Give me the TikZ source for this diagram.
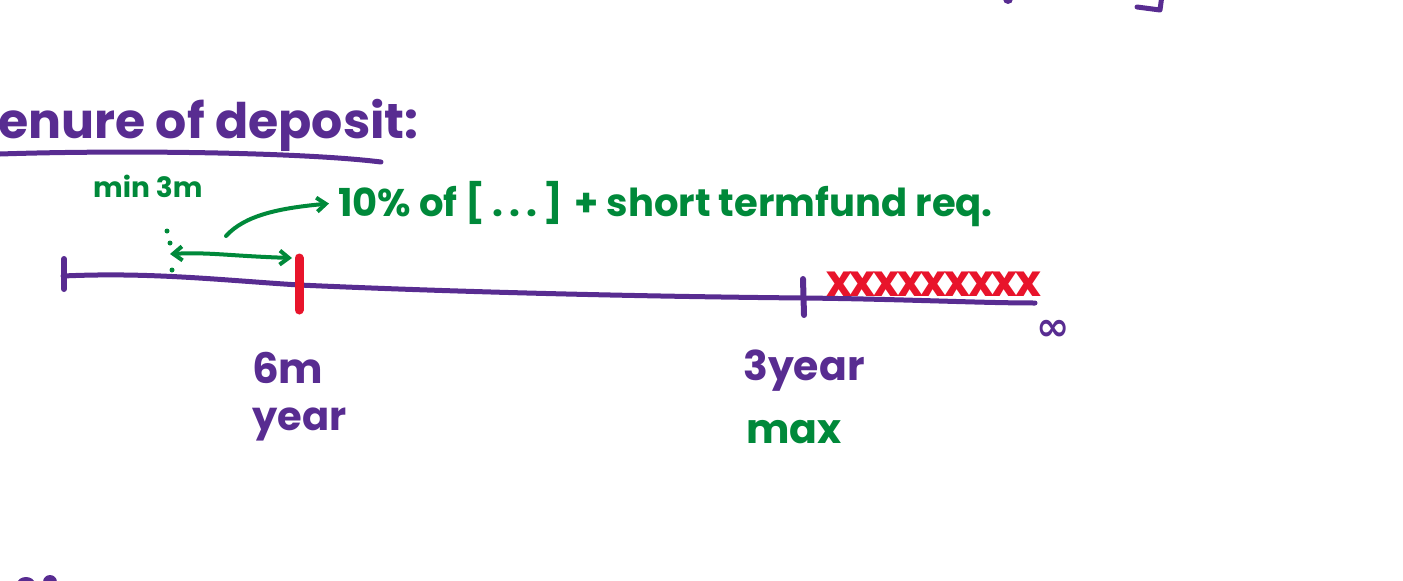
\documentclass[tikz,border=0pt]{standalone}
\usepackage{fontspec}
\setmainfont{Poppins}
\newfontfamily\dejavu{DejaVu Sans}
\usetikzlibrary{arrows.meta}
\definecolor{inkpurple}{RGB}{88,44,145}
\definecolor{inkgreen}{RGB}{0,137,58}
\definecolor{inkred}{RGB}{232,20,43}
\tikzset{
  pen/.style={line width=5pt, line cap=round, line join=round},
  ptext/.style={text=inkpurple, inner sep=0pt, font=\fontsize{#1}{#1}\selectfont\bfseries},
  gtext/.style={text=inkgreen, inner sep=0pt, font=\fontsize{#1}{#1}\selectfont\bfseries},
  tip/.style={-{Straight Barb[length=9pt,width=14pt,line width=4pt]}},
}
\begin{document}
\begin{tikzpicture}[x=1pt,y=-1pt]
\useasboundingbox (0,0) rectangle (1403,581);
\clip (0,0) rectangle (1403,581);
% top-right fragments
\draw[pen,inkpurple] (1137,7) -- (1160,10) -- (1162,-5);
\fill[inkpurple] (1008,-1) circle (5);
% bottom-left fragments
\fill[inkpurple] (26,584) ellipse (9 and 7);
\fill[inkpurple] (50,582) ellipse (7 and 7);
% title
\node[ptext=49, anchor=base west] (title) at (-2,138) {enure of deposit:};
\draw[pen,inkpurple] (0,154) .. controls (120,150) and (300,152) .. (381,162);
% timeline
\coordinate (t0) at (63,276);
\coordinate (t6) at (299,285);
\coordinate (t3) at (803,298);
\coordinate (tend) at (1035,303);
\draw[pen,inkpurple] (t0) .. controls (150,272) and (220,280) .. (t6)
  .. controls (500,294) and (700,297) .. (t3)
  .. controls (900,299) and (980,303) .. (tend);
\draw[line width=6pt,line cap=round,inkpurple] (64,259) -- (64,289);
\draw[line width=9pt,line cap=round,inkred] (299,258) -- (299,310);
\draw[line width=6pt,line cap=round,inkpurple] (803,279) -- (804,315);
% red crosses
\node[text=inkred, inner sep=0pt, font=\fontsize{44}{44}\selectfont\bfseries, anchor=base west] (xs) at (826,296) {x\kern-2.2pt x\kern-2.2pt x\kern-2.2pt x\kern-2.2pt x\kern-2.2pt x\kern-2.2pt x\kern-2.2pt x\kern-2.2pt x};
% infinity
\node[text=inkpurple, inner sep=0pt, font=\dejavu\fontsize{40}{40}\selectfont\bfseries] (inf) at (1053,330) {∞};
% labels
\node[ptext=42, anchor=base west] (sixm) at (252,383) {6m};
\node[ptext=40, anchor=base west] (year) at (252,430) {year};
\node[ptext=41, anchor=base west] (three) at (743,380) {3year};
\node[gtext=41, anchor=base west] (max) at (746,443) {max};
\node[gtext=28, anchor=base west] (min) at (93,197) {min 3m};
% green arrows
\fill[inkgreen] (167,231) circle (2.5) (170,243) circle (2.5) (172,270) circle (2.5);
\coordinate (a1) at (170,254);
\coordinate (a2) at (292,258);
\draw[pen,line width=4pt,inkgreen,{Straight Barb[length=9pt,width=14pt,line width=4pt]}-{Straight Barb[length=9pt,width=14pt,line width=4pt]}]
  (a1) .. controls (210,252) and (230,256) .. (a2);
\node[gtext=38.5, anchor=base west] (note) at (338,216) {10\% of [\,.\,.\,.\,] + short termfund req.};
\draw[pen,line width=4pt,inkgreen,tip] (226,236) .. controls (245,215) and (280,208) .. ([xshift=-9pt]note.west);
\end{tikzpicture}
\end{document}
